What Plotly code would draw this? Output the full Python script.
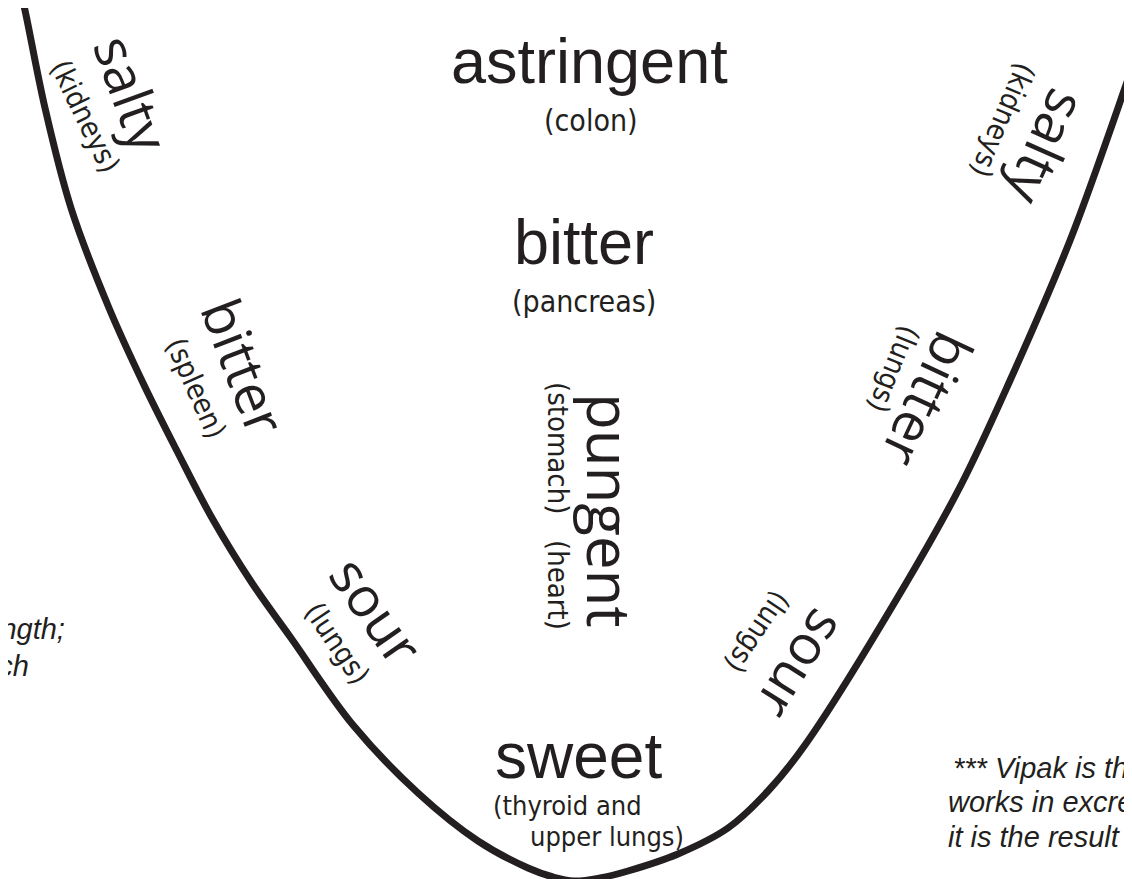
import plotly.graph_objects as go

# ---- data (pixel space of the 1132x879 drawing) ----
curve_x = [12, 18, 37, 63, 101, 136, 169, 204, 244, 283, 345, 410, 470, 520, 545, 566, 592, 620, 670, 720, 760, 797, 897, 953, 1000, 1063, 1130, 1153]
curve_y = [-20, 7, 100, 200, 300, 377, 443, 510, 575, 630, 717, 785, 833, 860, 869, 873, 870, 863, 846, 820, 783, 737, 577, 477, 377, 230, 43, -20]

tastes = ["astringent", "bitter", "pungent", "sweet", "salty", "bitter", "sour", "salty", "bitter", "sour"]
organs = ["(colon)", "(pancreas)", "(stomach)", "(heart)", "(thyroid and", "upper lungs)",
          "(kidneys)", "(spleen)", "(lungs)", "(kidneys)", "(lungs)", "(lungs)"]
notes_left = ["** Virya is the potency or strength;", "it is the energy which"]
notes_right = ["*** Vipak is the post-digestive effect that", "works in excretion and elimination;",
               "it is the result of digestion"]

INK = "#231f20"
MAIN_FONT = "Liberation Sans, Arial, Helvetica, sans-serif"
SIDE_FONT = "Open Sans, Lato, sans-serif"
NARROW_FONT = "DejaVu Sans Condensed, Liberation Sans Narrow, Arial Narrow, sans-serif"

# placement specs: (x, y, angle, size, family, xanchor)
taste_spec = [
    (581, 53, 0, 63, MAIN_FONT, "center"),
    (576, 234, 0, 63, MAIN_FONT, "center"),
    (602, 502, 90, 60, SIDE_FONT, "center"),
    (570, 748, 0, 64, MAIN_FONT, "center"),
    (125, 85, 70, 55, SIDE_FONT, "center"),
    (237, 358, 69, 55, SIDE_FONT, "center"),
    (370, 602, 55, 55, SIDE_FONT, "center"),
    (1040, 140, 114, 55, SIDE_FONT, "center"),
    (921, 392, 115, 55, SIDE_FONT, "center"),
    (795, 658, 122, 55, SIDE_FONT, "center"),
]
organ_spec = [
    (583, 112, 0, 30, NARROW_FONT, "center"),
    (576, 293, 0, 30, NARROW_FONT, "center"),
    (550, 440, 90, 29, NARROW_FONT, "center"),
    (550, 577, 90, 29, NARROW_FONT, "center"),
    (483, 797, 0, 27, NARROW_FONT, "left"),
    (520, 828, 0, 27, NARROW_FONT, "left"),
    (77, 108, 64, 29, NARROW_FONT, "center"),
    (188, 380, 66, 29, NARROW_FONT, "center"),
    (329, 635, 56, 29, NARROW_FONT, "center"),
    (995, 112, 113, 29, NARROW_FONT, "center"),
    (886, 361, 112, 29, NARROW_FONT, "center"),
    (750, 624, 124, 29, NARROW_FONT, "center"),
]
note_left_spec = [(59, 621), (23, 658)]
note_right_spec = [(943, 760), (938, 794), (938, 829)]

fig = go.Figure()
fig.add_trace(go.Scatter(
    x=curve_x, y=curve_y, mode="lines",
    line=dict(color=INK, width=7, shape="spline", smoothing=1.0),
    hoverinfo="skip", showlegend=False,
))

annotations = []
for txt, (x, y, ang, sz, fam, xa) in zip(tastes + organs, taste_spec + organ_spec):
    annotations.append(dict(
        x=x, y=y, xref="x", yref="y", text=txt, showarrow=False,
        textangle=ang, xanchor=xa, yanchor="middle",
        font=dict(family=fam, size=sz, color=INK),
    ))
for txt, (x, y) in zip(notes_left, note_left_spec):
    annotations.append(dict(
        x=x, y=y, xref="x", yref="y", text="<i>" + txt + "</i>", showarrow=False,
        xanchor="right", yanchor="middle",
        font=dict(family=MAIN_FONT, size=29, color=INK),
    ))
for txt, (x, y) in zip(notes_right, note_right_spec):
    annotations.append(dict(
        x=x, y=y, xref="x", yref="y", text="<i>" + txt + "</i>", showarrow=False,
        xanchor="left", yanchor="middle",
        font=dict(family=MAIN_FONT, size=29, color=INK),
    ))

fig.update_layout(
    width=1132, height=879, autosize=False,
    margin=dict(l=0, r=0, t=0, b=0, pad=0),
    paper_bgcolor="white", plot_bgcolor="white",
    xaxis=dict(range=[0, 1132], visible=False, fixedrange=True),
    yaxis=dict(range=[879, 0], visible=False, fixedrange=True),
    annotations=annotations,
    showlegend=False,
)

fig.write_html("out.html")
